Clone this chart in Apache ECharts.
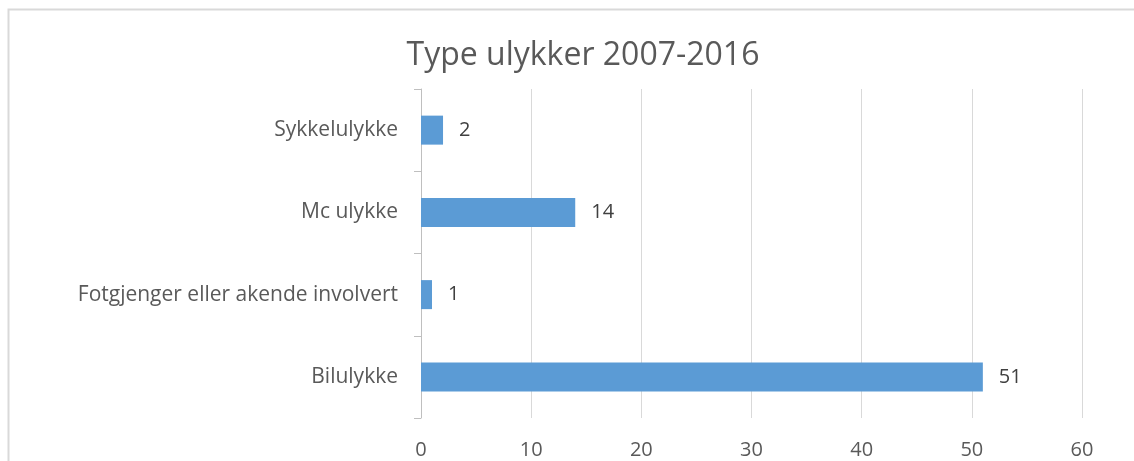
<!DOCTYPE html>
<html>
<head>
<meta charset="utf-8">
<script src="https://cdn.jsdelivr.net/npm/echarts@6/dist/echarts.min.js"></script>
<style>
html, body { margin: 0; padding: 0; background: #fff; }
#chart { width: 1134px; height: 461px; }
</style>
</head>
<body>
<div id="chart"></div>
<script>
// data, bottom to top
var categories = ["Bilulykke", "Fotgjenger eller akende involvert", "Mc ulykke", "Sykkelulykke"];
var values = [51, 1, 14, 2];
var xTicks = [0, 10, 20, 30, 40, 50, 60];

var FONT = "'Open Sans', 'Noto Sans', sans-serif";

var myChart = echarts.init(document.getElementById("chart"));
myChart.setOption({
    backgroundColor: "#fff",
    animation: false,
    title: {
        text: "Type ulykker 2007-2016",
        left: 578,
        top: 35,
        textAlign: "center",
        textStyle: {
            fontFamily: FONT,
            fontSize: 32,
            fontWeight: "normal",
            color: "#595959"
        }
    },
    graphic: [{
        type: "rect",
        shape: { x: 8.5, y: 9.5, width: 1140, height: 470 },
        style: { fill: "none", stroke: "#d9d9d9", lineWidth: 2 },
        silent: true
    }],
    grid: {
        left: 421,
        right: 52,
        top: 89,
        bottom: 43
    },
    xAxis: {
        type: "value",
        min: xTicks[0],
        max: xTicks[xTicks.length - 1],
        interval: 10,
        axisLine: { show: false },
        axisTick: { show: false },
        splitLine: { lineStyle: { color: "#d9d9d9", width: 1 } },
        axisLabel: {
            margin: 22,
            fontFamily: FONT,
            fontSize: 20,
            color: "#595959"
        }
    },
    yAxis: {
        type: "category",
        data: categories,
        axisLine: { show: true, lineStyle: { color: "#bfbfbf", width: 1 } },
        axisTick: { show: true, length: 7, lineStyle: { color: "#bfbfbf" } },
        axisLabel: {
            margin: 23,
            fontFamily: FONT,
            fontSize: 21,
            color: "#595959"
        }
    },
    series: [{
        type: "bar",
        data: values,
        barWidth: 29,
        itemStyle: { color: "#5b9bd5" },
        label: {
            show: true,
            position: "right",
            distance: 16,
            fontFamily: FONT,
            fontSize: 20,
            color: "#404040"
        }
    }]
});
</script>
</body>
</html>
